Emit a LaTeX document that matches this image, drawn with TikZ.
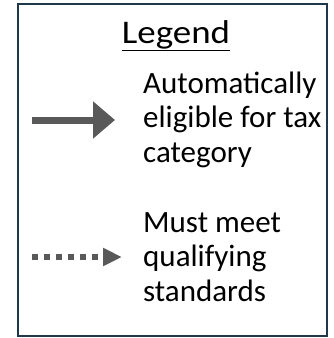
\documentclass[tikz,border=0pt]{standalone}
\usepackage{fontspec}
\setmainfont{Carlito}
\usetikzlibrary{arrows.meta}
\definecolor{framec}{HTML}{1F394A}
\definecolor{arrowc}{HTML}{595959}
\begin{document}
\begin{tikzpicture}[x=1pt,y=-1pt,
  txt/.style={anchor=base west,inner sep=0pt,font=\fontsize{31}{34}\selectfont,text=black},
  solidarrow/.style={draw=arrowc,line width=7pt,-{Triangle[length=22pt,width=36pt]}},
  dotarrow/.style={draw=arrowc,line width=5.5pt,dash pattern=on 5.5pt off 6.5pt,-{Triangle[length=19pt,width=17pt]}}]
\useasboundingbox (0,0) rectangle (333,338);
\node[draw=framec,line width=2pt,minimum width=309pt,minimum height=332pt,anchor=north west,inner sep=0pt] (frame) at (17,3) {};
\node[anchor=base,inner sep=0pt,font=\fontsize{33}{36}\selectfont] (title) at (176,43.5) {\scalebox{1.12}[1]{\underline{Legend}}};
\node[txt] (a1) at (143,93) {Automatically};
\node[txt] (a2) at (143,127.5) {eligible for tax};
\node[txt] (a3) at (143,162) {category};
\node[txt] (m1) at (143,232) {Must meet};
\node[txt] (m2) at (143,266.5) {qualifying};
\node[txt] (m3) at (143,301) {standards};
\coordinate (s1) at (32,120);
\coordinate (e1) at (115,120);
\coordinate (s2) at (32,257);
\coordinate (e2) at (122,257);
\draw[solidarrow] (s1) -- (e1);
\draw[dotarrow] (s2) -- (e2);
\end{tikzpicture}
\end{document}
